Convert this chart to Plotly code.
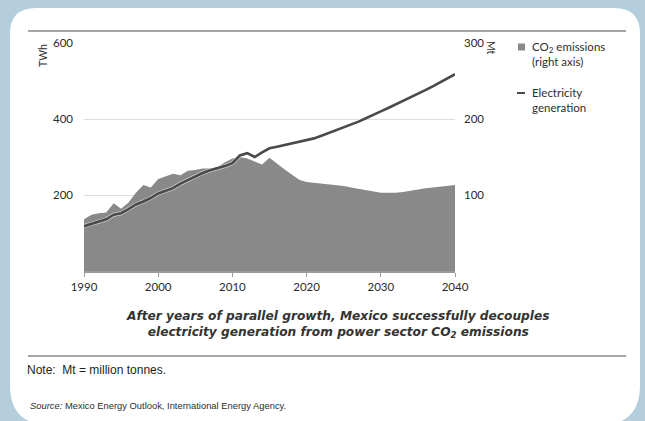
import plotly.graph_objects as go

years = list(range(1990, 2041))
electricity_twh = [118, 124, 132, 136, 148, 152, 163, 175, 183, 192,
                   204, 210, 218, 230, 240, 250, 258, 265, 270, 276,
                   284, 304, 310, 300, 312, 323, 327, 331, 335, 339,
                   343, 349, 356, 363, 370, 377, 385, 393, 402, 412,
                   420, 429, 438, 447, 456, 466, 476, 486, 496, 506, 518]
co2_mt = [68, 74, 76, 77, 89, 82, 90, 103, 113, 110,
          121, 124, 128, 126, 132, 133, 135, 135, 137, 143,
          148, 150, 148, 144, 140, 149, 141, 134, 127, 120,
          117, 116, 115, 114, 113, 112, 110, 108, 106, 104,
          103, 103, 103, 104, 106, 108, 109, 110, 111, 112, 113]
x_ticks = [1990, 2000, 2010, 2020, 2030, 2040]
left_ticks = [200, 400, 600]
right_ticks = [100, 200, 300]

W, H = 645, 421
L, R, T, B = 84, 455, 43, 271


def px(x):
    return (x - L) / (R - L)


def py(y):
    return (B - y) / (B - T)


fig = go.Figure()
fig.add_trace(go.Scatter(x=years, y=co2_mt, yaxis="y", mode="lines",
                         fill="tozeroy", fillcolor="#898989",
                         line=dict(width=0, color="#898989"),
                         hoverinfo="skip", showlegend=False))
fig.add_trace(go.Scatter(x=years, y=electricity_twh, yaxis="y2", mode="lines",
                         line=dict(width=4, color="rgba(255,255,255,0.6)"),
                         hoverinfo="skip", showlegend=False))
fig.add_trace(go.Scatter(x=years, y=electricity_twh, yaxis="y2", mode="lines",
                         line=dict(width=2.6, color="#4a4a4a"),
                         showlegend=False))

font_main = "Lato, 'Open Sans', sans-serif"


def card_path(x0, y0, x1, y1, rt, rb):
    pts = [
        f"M {px(x0 + rt)} {py(y0)}",
        f"L {px(x1 - rt)} {py(y0)}",
        f"Q {px(x1)} {py(y0)} {px(x1)} {py(y0 + rt)}",
        f"L {px(x1)} {py(y1 - rb)}",
        f"Q {px(x1)} {py(y1)} {px(x1 - rb)} {py(y1)}",
        f"L {px(x0 + rb)} {py(y1)}",
        f"Q {px(x0)} {py(y1)} {px(x0)} {py(y1 - rb)}",
        f"L {px(x0)} {py(y0 + rt)}",
        f"Q {px(x0)} {py(y0)} {px(x0 + rt)} {py(y0)}",
        "Z",
    ]
    return " ".join(pts)


shapes = [
    dict(type="path", xref="paper", yref="paper", path=card_path(10, 8, 640, 425, 26, 40),
         fillcolor="white", line=dict(width=0), layer="below"),
    dict(type="line", xref="paper", yref="paper", x0=px(28), x1=px(626), y0=py(31), y1=py(31),
         line=dict(color="#a6a6a6", width=2), layer="above"),
    dict(type="line", xref="paper", yref="paper", x0=px(28), x1=px(626), y0=py(356), y1=py(356),
         line=dict(color="#a6a6a6", width=2), layer="above"),
    # legend swatch for CO2 emissions
    dict(type="rect", xref="paper", yref="paper", x0=px(518), x1=px(525), y0=py(43.5), y1=py(50.5),
         fillcolor="#898989", line=dict(width=0), layer="above"),
    # legend swatch for electricity line
    dict(type="line", xref="paper", yref="paper", x0=px(517), x1=px(525), y0=py(93), y1=py(93),
         line=dict(color="#4a4a4a", width=2), layer="above"),
]

ann = []


def add_text(x, y, text, size=11, color="#2e2e2e", xanchor="left", yanchor="middle",
             family=font_main, angle=0, align="left"):
    ann.append(dict(x=px(x), y=py(y), xref="paper", yref="paper", text=text,
                    showarrow=False, xanchor=xanchor, yanchor=yanchor, textangle=angle,
                    font=dict(size=size, color=color, family=family), align=align))


add_text(43, 56, "TWh", size=10.5, xanchor="center", angle=-90)
add_text(491, 48, "Mt", size=10.5, xanchor="center", angle=90)
add_text(530, 54, "CO<sub>2</sub> emissions<br>(right axis)", size=11.5)
add_text(530, 100, "Electricity<br>generation", size=11.5)
add_text(338, 324, "<b><i>After years of parallel growth, Mexico successfully decouples<br>"
         "electricity generation from power sector CO<sub>2</sub> emissions</i></b>",
         size=12.2, color="#333333", xanchor="center", align="center",
         family="'DejaVu Sans', sans-serif")
add_text(25, 370, "Note:  Mt = million tonnes.", size=12, color="#1e1e1e",
         family="'Liberation Sans', Arial, sans-serif")
add_text(28, 405, "<i>Source:</i> Mexico Energy Outlook, International Energy Agency.",
         size=9.4, color="#2e2e2e", family="'Liberation Sans', Arial, sans-serif")

fig.update_layout(
    width=W, height=H,
    margin=dict(l=L, r=W - R, t=T, b=H - B, pad=0),
    paper_bgcolor="#b4cedd",
    plot_bgcolor="rgba(0,0,0,0)",
    showlegend=False,
    shapes=shapes,
    annotations=ann,
    font=dict(family=font_main, size=11, color="#2e2e2e"),
    xaxis=dict(range=[1990, 2040], tickvals=x_ticks, showgrid=False, zeroline=False,
               showline=True, linecolor="#9a9a9a", linewidth=1.5,
               ticks="outside", ticklen=4, tickcolor="#9a9a9a", tickwidth=1,
               tickfont=dict(size=11.5, color="#2a2a2a"), fixedrange=True),
    yaxis=dict(range=[0, 300], side="right", tickvals=right_ticks, showgrid=True,
               gridcolor="#dedede", gridwidth=1, zeroline=False, showline=False,
               ticks="", ticklabelstandoff=8, tickfont=dict(size=11.5, color="#2a2a2a")),
    yaxis2=dict(range=[0, 600], side="left", overlaying="y", tickvals=left_ticks,
                showgrid=False, zeroline=False, showline=False, ticks="",
                ticklabelstandoff=10, tickfont=dict(size=11.5, color="#2a2a2a")),
)

fig.write_html("out.html")
